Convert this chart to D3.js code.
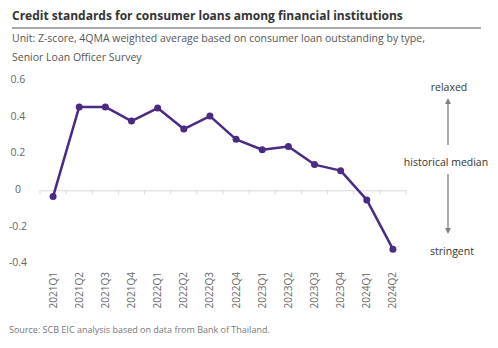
<!DOCTYPE html>
<html>
<head>
<meta charset="utf-8">
<title>Credit standards for consumer loans</title>
<script src="https://d3js.org/d3.v7.min.js"></script>
<style>
  body { margin: 0; background: #fff; }
  svg { display: block; font-family: "Open Sans", "Noto Sans", sans-serif; }
</style>
</head>
<body>
<script>
  // data
  var quarters = ["2021Q1","2021Q2","2021Q3","2021Q4","2022Q1","2022Q2","2022Q3","2022Q4",
                  "2023Q1","2023Q2","2023Q3","2023Q4","2024Q1","2024Q2"];
  var zscore = [-0.04, 0.45, 0.45, 0.373, 0.444, 0.329, 0.40, 0.273,
                0.216, 0.234, 0.135, 0.102, -0.058, -0.327];
  var yTicks = [0.6, 0.4, 0.2, 0, -0.2, -0.4];
  var yTickLabels = ["0.6", "0.4", "0.2", "0", "-0.2", "-0.4"];

  var width = 498, height = 348;
  var purple = "#4b2a85";

  var svg = d3.select("body").append("svg")
      .attr("width", width)
      .attr("height", height);

  // title + rule
  svg.append("text")
      .attr("x", 12).attr("y", 20)
      .attr("font-size", 12).attr("font-weight", "bold")
      .attr("fill", "#333")
      .text("Credit standards for consumer loans among financial institutions");
  svg.append("line")
      .attr("x1", 12).attr("x2", 481)
      .attr("y1", 28).attr("y2", 28)
      .attr("stroke", "#555").attr("stroke-width", 1);

  // subtitle
  svg.append("text")
      .attr("x", 12).attr("y", 42)
      .attr("font-size", 10.5).attr("fill", "#555")
      .text("Unit: Z-score, 4QMA weighted average based on consumer loan outstanding by type,");
  svg.append("text")
      .attr("x", 12).attr("y", 61)
      .attr("font-size", 10.5).attr("fill", "#555")
      .text("Senior Loan Officer Survey");

  // scales
  var x = d3.scaleBand().domain(quarters).range([40, 406]);
  var y = d3.scaleLinear().domain([-0.4, 0.6]).range([262.5, 79.5]);

  // y labels
  svg.append("g").selectAll("text")
      .data(yTicks)
      .join("text")
      .attr("x", 18)
      .attr("y", function(d) { return y(d); })
      .attr("dy", "0.35em")
      .attr("text-anchor", "middle")
      .attr("font-size", 10.5)
      .attr("fill", "#666")
      .text(function(d, i) { return yTickLabels[i]; });

  // x axis at zero with tick marks at band edges
  var axis = svg.append("g")
      .attr("transform", "translate(0," + (y(0) + 1) + ")")
      .call(d3.axisBottom(x).tickSize(0).tickFormat(""));
  axis.select(".domain").attr("stroke", "#d9d9d9");
  axis.selectAll(".edge")
      .data(quarters.concat(["end"]))
      .join("line")
      .attr("class", "edge")
      .attr("x1", function(d, i) { return x.range()[0] + i * x.step(); })
      .attr("x2", function(d, i) { return x.range()[0] + i * x.step(); })
      .attr("y1", 0).attr("y2", 4)
      .attr("stroke", "#d9d9d9");

  // rotated category labels
  svg.append("g").selectAll("text")
      .data(quarters)
      .join("text")
      .attr("transform", function(d) {
        return "translate(" + (x(d) + x.bandwidth() / 2) + ",272) rotate(-90)";
      })
      .attr("dy", "0.35em")
      .attr("text-anchor", "end")
      .attr("font-size", 10)
      .attr("fill", "#666")
      .text(function(d) { return d; });

  // line
  var line = d3.line()
      .x(function(d, i) { return x(quarters[i]) + x.bandwidth() / 2; })
      .y(function(d) { return y(d); });

  svg.append("path")
      .datum(zscore)
      .attr("d", line)
      .attr("fill", "none")
      .attr("stroke", purple)
      .attr("stroke-width", 2.5)
      .attr("stroke-linejoin", "round");

  svg.append("g").selectAll("circle")
      .data(zscore)
      .join("circle")
      .attr("cx", function(d, i) { return x(quarters[i]) + x.bandwidth() / 2; })
      .attr("cy", function(d) { return y(d); })
      .attr("r", 3.5)
      .attr("fill", purple);

  // right side annotation
  svg.append("defs").append("marker")
      .attr("id", "head")
      .attr("viewBox", "0 0 10 10")
      .attr("refX", 5).attr("refY", 5)
      .attr("markerWidth", 4.5).attr("markerHeight", 4.5)
      .attr("orient", "auto")
      .append("path")
      .attr("d", "M0,0L10,5L0,10Z")
      .attr("fill", "#7f7f7f");

  var note = svg.append("g").attr("font-size", 10.5).attr("fill", "#333").attr("text-anchor", "middle");
  note.append("text").attr("x", 449).attr("y", 87).attr("dy", "0.35em").text("relaxed");
  note.append("text").attr("x", 446).attr("y", 162).attr("dy", "0.35em").text("historical median");
  note.append("text").attr("x", 452).attr("y", 251).attr("dy", "0.35em").text("stringent");

  svg.append("line")
      .attr("x1", 448).attr("x2", 448)
      .attr("y1", 145).attr("y2", 101)
      .attr("stroke", "#7f7f7f").attr("stroke-width", 1.3)
      .attr("marker-end", "url(#head)");
  svg.append("line")
      .attr("x1", 448).attr("x2", 448)
      .attr("y1", 174).attr("y2", 231)
      .attr("stroke", "#7f7f7f").attr("stroke-width", 1.3)
      .attr("marker-end", "url(#head)");

  // source
  svg.append("text")
      .attr("x", 9).attr("y", 333)
      .attr("font-size", 9).attr("fill", "#777")
      .text("Source: SCB EIC analysis based on data from Bank of Thailand.");
</script>
</body>
</html>
